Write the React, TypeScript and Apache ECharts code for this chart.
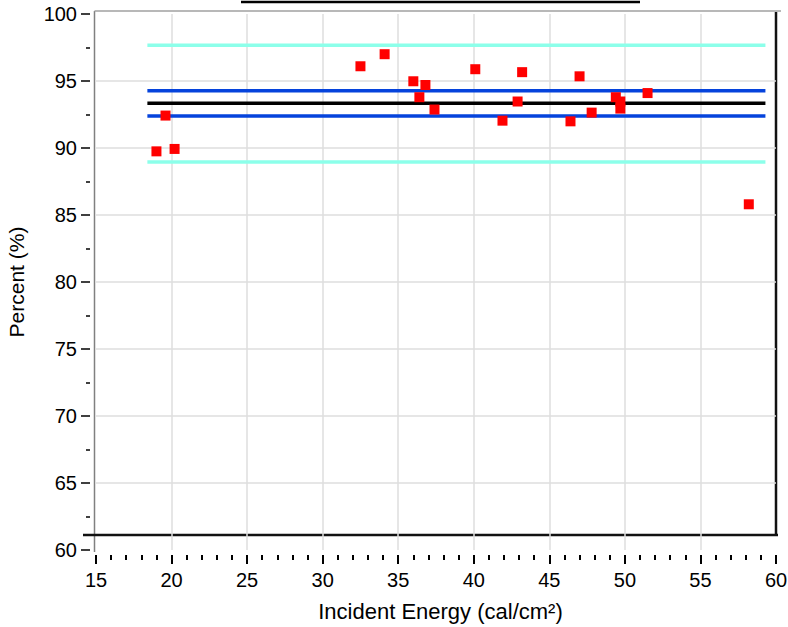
import React, { useEffect, useRef } from "react";
import * as echarts from "echarts";

// Measured points: [incident energy (cal/cm²), percent]
const energy = [19.0, 19.6, 20.2, 32.5, 34.1, 36.0, 36.8, 36.4, 37.4, 40.1, 41.9, 42.9, 43.2, 46.4, 47.0, 47.8, 49.4, 49.7, 49.7, 51.5, 58.2];
const percent = [89.75, 92.42, 89.93, 96.1, 97.0, 94.98, 94.7, 93.79, 92.87, 95.88, 92.04, 93.47, 95.66, 91.99, 95.35, 92.64, 93.79, 93.47, 92.94, 94.1, 85.8];

// Reference lines (mean, confidence bounds, limits) and their x span
const lineSpan = [18.4, 59.3];
const meanValue = 93.34;
const innerBounds = [94.28, 92.39];
const outerBounds = [97.66, 88.95];

const xTicks = { min: 15, max: 60, interval: 5 };
const yTicks = { min: 60, max: 100, interval: 5 };

const xName = "Incident Energy (cal/cm²)";
const yName = "Percent (%)";

const FONT = "'Liberation Sans', Arial, sans-serif";

function hline(value: number, color: string, z: number) {
  return {
    type: "line",
    data: [
      [lineSpan[0], value],
      [lineSpan[1], value],
    ],
    showSymbol: false,
    symbol: "none",
    silent: true,
    lineStyle: { color, width: 3.5 },
    z,
  };
}

export default function App() {
  const ref = useRef<HTMLDivElement>(null);

  useEffect(() => {
    if (!ref.current) return;
    const chart = echarts.init(ref.current, null, { renderer: "svg" });
    const gridLeft = 96;
    const gridTop = 14;
    const gridW = 680;
    const gridH = 536;

    chart.setOption({
      animation: false,
      backgroundColor: "#ffffff",
      textStyle: { fontFamily: FONT },
      grid: {
        left: gridLeft,
        top: gridTop,
        width: gridW,
        height: gridH,
        outerBoundsMode: "none",
        containLabel: false,
      },
      xAxis: {
        type: "value",
        min: xTicks.min,
        max: xTicks.max,
        interval: xTicks.interval,
        offset: 5,
        axisLine: { show: false },
        axisTick: { show: true, length: 9, lineStyle: { color: "#000", width: 2 } },
        minorTick: { show: true, splitNumber: 5, length: 5, lineStyle: { color: "#000", width: 2 } },
        axisLabel: { color: "#000", fontSize: 20, margin: 15, fontFamily: FONT },
        splitLine: {
          show: true,
          showMinLine: false,
          showMaxLine: false,
          lineStyle: { color: "#dedede", width: 1.5 },
        },
        name: xName,
        nameLocation: "middle",
        nameGap: 45,
        nameTextStyle: { color: "#000", fontSize: 22, fontFamily: FONT, padding: [0, 0, 0, 9] },
      },
      yAxis: {
        type: "value",
        min: yTicks.min,
        max: yTicks.max,
        interval: yTicks.interval,
        offset: 6,
        axisLine: { show: false },
        axisTick: { show: true, length: 9, lineStyle: { color: "#000", width: 1.5 } },
        minorTick: { show: true, splitNumber: 2, length: 4, lineStyle: { color: "#000", width: 1.5 } },
        axisLabel: { color: "#000", fontSize: 20, margin: 13, fontFamily: FONT },
        splitLine: {
          show: true,
          showMinLine: false,
          showMaxLine: false,
          lineStyle: { color: "#dedede", width: 1.5 },
        },
        name: yName,
        nameLocation: "middle",
        nameRotate: 90,
        nameGap: 63,
        nameTextStyle: { color: "#000", fontSize: 21, fontFamily: FONT },
      },
      series: [
        hline(outerBounds[0], "#8cffea", 2),
        hline(outerBounds[1], "#8cffea", 2),
        hline(innerBounds[0], "#0543dc", 3),
        hline(innerBounds[1], "#0543dc", 3),
        hline(meanValue, "#000000", 4),
        {
          type: "scatter",
          data: energy.map((e, i) => [e, percent[i]]),
          symbol: "rect",
          symbolSize: 10,
          itemStyle: { color: "#ff0000", opacity: 1 },
          z: 5,
        },
      ],
      graphic: [
        // top title underline (clipped)
        { type: "line", shape: { x1: 241, y1: 2, x2: 640, y2: 2 }, style: { stroke: "#000", lineWidth: 2.5 } },
        // frame: left + top gray
        { type: "line", shape: { x1: 94.5, y1: 11, x2: 94.5, y2: 552 }, style: { stroke: "#808080", lineWidth: 1.5 } },
        { type: "line", shape: { x1: 94.5, y1: 11, x2: 781, y2: 11 }, style: { stroke: "#a0a0a0", lineWidth: 1.5 } },
        // frame: right + bottom black
        { type: "line", shape: { x1: 776, y1: 12, x2: 776, y2: 535 }, style: { stroke: "#111", lineWidth: 2.5 } },
        { type: "line", shape: { x1: 83, y1: 535, x2: 778, y2: 535 }, style: { stroke: "#111", lineWidth: 2.5 } },
      ],
    });
    return () => chart.dispose();
  }, []);

  return <div ref={ref} style={{ width: 788, height: 627, position: "absolute", left: 0, top: 0 }} />;
}
